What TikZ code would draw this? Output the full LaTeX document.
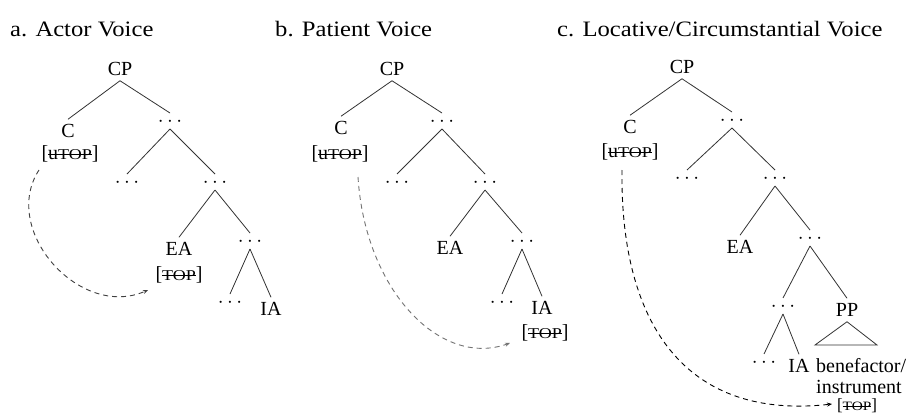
\documentclass[tikz,border=0pt]{standalone}
\usepackage{fontspec}
\setmainfont{Liberation Serif}
\newfontfamily\headfont[FakeStretch=1.12]{Liberation Serif}
\newfontfamily\capsfont[FakeStretch=1.2]{Liberation Serif}
\usetikzlibrary{arrows.meta}

% struck-out feature and small-cap TOP
\newcommand\strk[1]{\setbox0\hbox{#1}\rlap{\rule[0.23em]{\wd0}{0.6pt}}\box0}
\newcommand\toptag{{\capsfont\fontsize{0.75em}{0.75em}\selectfont TOP}}

\tikzset{
  lbl/.style={font=\fontsize{20pt}{20pt}\selectfont, inner sep=0pt, outer ysep=5pt,
              text height=13.5pt, text depth=0pt},
  dts/.style={font=\fontsize{20pt}{20pt}\selectfont, inner sep=0pt, outer ysep=3pt,
              text height=10pt, text depth=0pt},
  feat/.style={font=\fontsize{20pt}{20pt}\selectfont, inner sep=0pt},
  branch/.style={draw=black!80, line width=0.8pt},
  move/.style={dash pattern=on 5pt off 4pt, line width=0.9pt,
               -{Stealth[length=5pt,width=4pt]}},
  head/.style={font=\headfont\fontsize{22pt}{22pt}\selectfont, anchor=base west, inner sep=0pt}
}

\begin{document}
\begin{tikzpicture}[x=1pt, y=-1pt]
\useasboundingbox[fill=white] (0,0) rectangle (907,415);

% headings
\node[head] (ha) at (10,36) {a. Actor Voice};
\node[head] (hb) at (275,36) {b. Patient Voice};
\node[head] (hc) at (557,36) {c. Locative/Circumstantial Voice};

% ---------- a. Actor Voice ----------
\node[lbl] (CPa) at (120,69) {CP};
\node[lbl] (Ca)  at (68,131) {C};
\node[feat] (Fa) at (70,154) {[\strk{u\toptag}]};
\node[dts] (Da1) at (170,121) {$\cdots$};
\node[dts] (Da2) at (127,182) {$\cdots$};
\node[dts] (Da3) at (215,182) {$\cdots$};
\node[lbl] (EAa) at (179,249) {EA};
\node[feat] (Ta) at (179,275) {[\strk{\toptag}]};
\node[dts] (Da4) at (250,241) {$\cdots$};
\node[dts] (Da5) at (230,302) {$\cdots$};
\node[lbl] (IAa) at (271,309) {IA};
\draw[branch] (CPa.south) -- (Ca.north);
\draw[branch] (CPa.south) -- (Da1.north);
\draw[branch] (Da1.south) -- (Da2.north);
\draw[branch] (Da1.south) -- (Da3.north);
\draw[branch] (Da3.south) -- (EAa.north);
\draw[branch] (Da3.south) -- (Da4.north);
\draw[branch] (Da4.south) -- (Da5.north);
\draw[branch] (Da4.south) -- (IAa.north);
\coordinate (sa) at (39,170);
\coordinate (ea) at (148,290);
\draw[move, black!75] (sa) .. controls (0,230) and (80,320) .. (ea);

% ---------- b. Patient Voice ----------
\node[lbl] (CPb) at (392,69) {CP};
\node[lbl] (Cb)  at (341,128) {C};
\node[feat] (Fb) at (340,154) {[\strk{u\toptag}]};
\node[dts] (Db1) at (442,121) {$\cdots$};
\node[dts] (Db2) at (397,182) {$\cdots$};
\node[dts] (Db3) at (485,182) {$\cdots$};
\node[lbl] (EAb) at (450,248) {EA};
\node[dts] (Db4) at (522,241) {$\cdots$};
\node[dts] (Db5) at (502,302) {$\cdots$};
\node[lbl] (IAb) at (542,308) {IA};
\node[feat] (Tb) at (545,333) {[\strk{\toptag}]};
\draw[branch] (CPb.south) -- (Cb.north);
\draw[branch] (CPb.south) -- (Db1.north);
\draw[branch] (Db1.south) -- (Db2.north);
\draw[branch] (Db1.south) -- (Db3.north);
\draw[branch] (Db3.south) -- (EAb.north);
\draw[branch] (Db3.south) -- (Db4.north);
\draw[branch] (Db4.south) -- (Db5.north);
\draw[branch] (Db4.south) -- (IAb.north);
\coordinate (sb) at (358,177);
\coordinate (eb) at (510,343);
\draw[move, black!55] (sb) .. controls (365,290) and (440,368) .. (eb);

% ---------- c. Locative/Circumstantial Voice ----------
\node[lbl] (CPc) at (682,67) {CP};
\node[lbl] (Cc)  at (630,127) {C};
\node[feat] (Fc) at (630,152) {[\strk{u\toptag}]};
\node[dts] (Dc1) at (732,120) {$\cdots$};
\node[dts] (Dc2) at (687,178) {$\cdots$};
\node[dts] (Dc3) at (775,178) {$\cdots$};
\node[lbl] (EAc) at (740,247) {EA};
\node[dts] (Dc4) at (810,238) {$\cdots$};
\node[dts] (Dc5) at (783,306) {$\cdots$};
\node[lbl] (PPc) at (847,310) {PP};
\node[dts] (Dc6) at (764,362) {$\cdots$};
\node[lbl] (IAc) at (799,366) {IA};
\node[feat, anchor=base west] (Bc1) at (816,372) {benefactor/};
\node[feat, anchor=base west] (Bc2) at (816,393) {instrument};
\node[feat, font=\fontsize{17pt}{17pt}\selectfont] (Tc) at (857,406) {[\strk{\toptag}]};
\draw[branch] (CPc.south) -- (Cc.north);
\draw[branch] (CPc.south) -- (Dc1.north);
\draw[branch] (Dc1.south) -- (Dc2.north);
\draw[branch] (Dc1.south) -- (Dc3.north);
\draw[branch] (Dc3.south) -- (EAc.north);
\draw[branch] (Dc3.south) -- (Dc4.north);
\draw[branch] (Dc4.south) -- (Dc5.north);
\draw[branch] (Dc4.south) -- (PPc.north);
\draw[branch] (Dc5.south) -- (Dc6.north);
\draw[branch] (Dc5.south) -- (IAc.north);
\coordinate (tl) at (815,345);
\coordinate (tr) at (877,345);
\draw[branch] (PPc.south) -- (tl) -- (tr) -- cycle;
\coordinate (sc) at (622,170);
\coordinate (ec) at (832,404);
\draw[move, black] (sc) .. controls (620,330) and (690,420) .. (ec);
\end{tikzpicture}
\end{document}
